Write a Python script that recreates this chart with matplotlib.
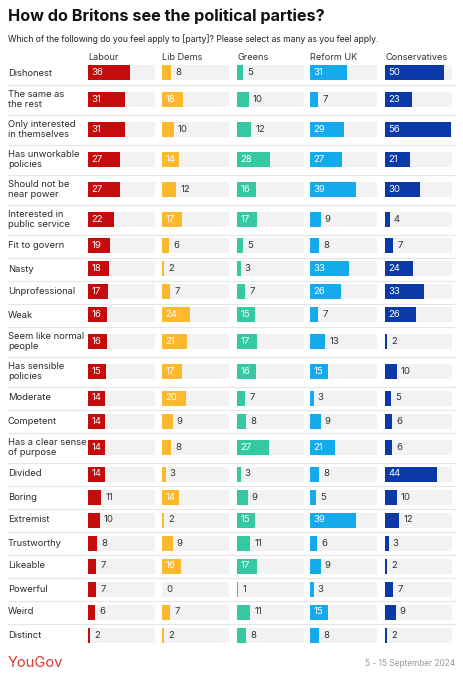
import matplotlib
matplotlib.use("Agg")
import matplotlib.pyplot as plt

plt.rcParams['font.family'] = ['Inter', 'DejaVu Sans']

# data
traits = ["Dishonest", "The same as\nthe rest", "Only interested\nin themselves",
          "Has unworkable\npolicies", "Should not be\nnear power", "Interested in\npublic service",
          "Fit to govern", "Nasty", "Unprofessional", "Weak", "Seem like normal\npeople",
          "Has sensible\npolicies", "Moderate", "Competent", "Has a clear sense\nof purpose",
          "Divided", "Boring", "Extremist", "Trustworthy", "Likeable", "Powerful", "Weird",
          "Distinct"]
parties = ["Labour", "Lib Dems", "Greens", "Reform UK", "Conservatives"]
labour = [36, 31, 31, 27, 27, 22, 19, 18, 17, 16, 16, 15, 14, 14, 14, 14, 11, 10, 8, 7, 7, 6, 2]
libdems = [8, 18, 10, 14, 12, 17, 6, 2, 7, 24, 21, 17, 20, 9, 8, 3, 14, 2, 9, 16, 0, 7, 2]
greens = [5, 10, 12, 28, 16, 17, 5, 3, 7, 15, 17, 16, 7, 8, 27, 3, 9, 15, 11, 17, 1, 11, 8]
reform = [31, 7, 29, 27, 39, 9, 8, 33, 26, 7, 13, 15, 3, 9, 21, 8, 5, 39, 6, 9, 3, 15, 8]
cons = [50, 23, 56, 21, 30, 4, 7, 24, 33, 26, 2, 10, 5, 6, 6, 44, 10, 12, 3, 2, 7, 9, 2]
series = [labour, libdems, greens, reform, cons]
colors = ["#c40c0c", "#fdb92e", "#35c9a3", "#14aaec", "#0b3aa6"]

W, H = 463, 680
fig = plt.figure(figsize=(W / 100, H / 100), dpi=100)
fig.patch.set_facecolor("white")

# base axes in pixel units for text and separators
base = fig.add_axes([0, 0, 1, 1])
base.set_xlim(0, W)
base.set_ylim(H, 0)
base.axis("off")

# row layout: one-line rows are shorter than two-line rows
heights = [30 if "\n" in t else 23 for t in traits]
top = 61.5
centers = []
y = top
for h in heights:
    centers.append(y + h / 2)
    y += h
bottom = y

base.text(8, 16, "How do Britons see the political parties?", fontsize=11.7,
          fontweight="bold", color="#111111", va="center", ha="left")
base.text(8, 39, "Which of the following do you feel apply to [party]? Please select as many as you feel apply.",
          fontsize=6.2, color="#222222", va="center", ha="left")

col_x = [88, 162, 237, 310, 385]
col_w = 67
scale_max = 56.8

for name, cx in zip(parties, col_x):
    base.text(cx, 57, name, fontsize=6.6, color="#333333", va="center", ha="left")

for t, c in zip(traits, centers):
    base.text(8, c, t, fontsize=6.75, color="#2b2b2b", va="center", ha="left", linespacing=1.2)

# separators between rows
y = top
for h in heights[:-1]:
    y += h
    base.plot([8, 455], [y, y], color="#e6e6e6", lw=0.8)

for vals, color, cx in zip(series, colors, col_x):
    ax = fig.add_axes([cx / W, 1 - bottom / H, col_w / W, (bottom - top) / H])
    ax.set_xlim(0, scale_max)
    ax.set_ylim(bottom, top)
    ax.axis("off")
    ax.barh(centers, [scale_max] * len(vals), height=15, color="#f2f2f2", left=0)
    ax.barh(centers, vals, height=15, color=color, left=0)
    for v, c in zip(vals, centers):
        if v >= 14:
            ax.text(3.0, c, str(v), color="white", fontsize=6.9, va="center", ha="left")
        else:
            ax.text(v + 3.6, c, str(v), color="#333333", fontsize=6.9, va="center", ha="left")

base.text(8, 663, "YouGov", fontsize=10.6, color="#e3342f", va="center", ha="left")
base.text(455, 664, "5 - 15 September 2024", fontsize=6.0, color="#9a9a9a", va="center", ha="right")

fig.savefig("out.png", dpi=100)
